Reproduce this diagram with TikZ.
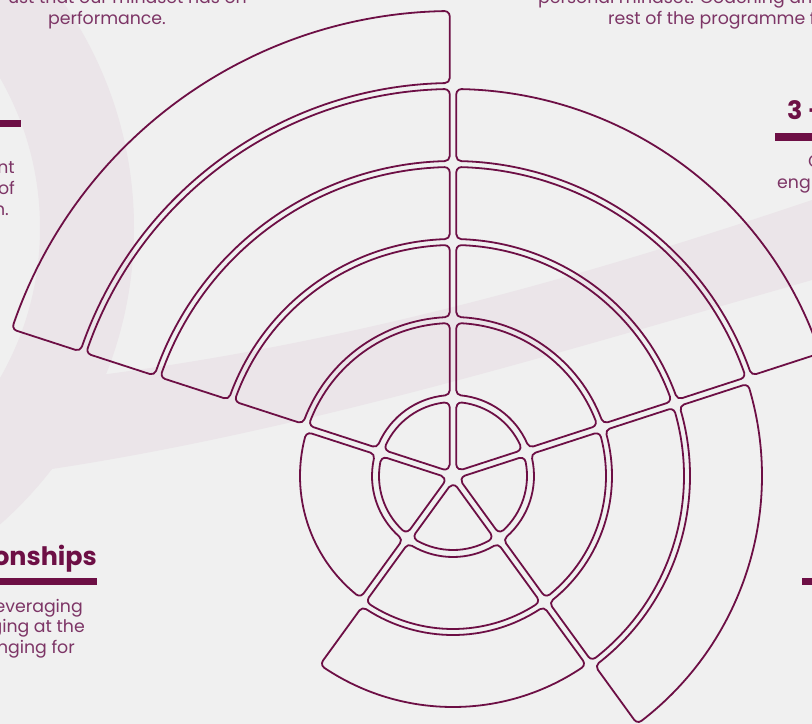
\documentclass[tikz,border=0pt]{standalone}
\usepackage{fontspec}
\setmainfont{Poppins}
\definecolor{bgc}{HTML}{F0F0F0}
\definecolor{swc}{HTML}{EBE5E9}
\definecolor{plum}{HTML}{6D0F45}
\definecolor{plumtext}{HTML}{7D3566}
\newcommand\gapd{3.3}
\newcommand\crad{5}
% annular sector with rounded corners: #1 start angle, #2 end angle, #3 inner radius, #4 outer radius
\newcommand\ringseg[4]{%
 \pgfmathsetmacro\sgA{#1}\pgfmathsetmacro\sgB{#2}%
 \pgfmathsetmacro\sgRi{#3}\pgfmathsetmacro\sgRo{#4}%
 \pgfmathsetmacro\sgPa{\sgA+asin((\gapd+\crad)/(\sgRo-\crad))}%
 \pgfmathsetmacro\sgPb{\sgB-asin((\gapd+\crad)/(\sgRo-\crad))}%
 \pgfmathsetmacro\sgQa{\sgA+asin((\gapd+\crad)/(\sgRi+\crad))}%
 \pgfmathsetmacro\sgQb{\sgB-asin((\gapd+\crad)/(\sgRi+\crad))}%
 \pgfmathsetmacro\sgSx{(\sgRo-\crad)*cos(\sgPa)+\crad*cos(\sgA-90)}%
 \pgfmathsetmacro\sgSy{(\sgRo-\crad)*sin(\sgPa)+\crad*sin(\sgA-90)}%
 \pgfmathsetmacro\sgTx{(\sgRi+\crad)*cos(\sgQb)+\crad*cos(\sgB+90)}%
 \pgfmathsetmacro\sgTy{(\sgRi+\crad)*sin(\sgQb)+\crad*sin(\sgB+90)}%
 \draw[segline] (\sgSx,\sgSy) arc[start angle=\sgA-90, end angle=\sgPa, radius=\crad]
   arc[start angle=\sgPa, end angle=\sgPb, radius=\sgRo]
   arc[start angle=\sgPb, end angle=\sgB+90, radius=\crad]
   -- (\sgTx,\sgTy)
   arc[start angle=\sgB+90, end angle=\sgQb+180, radius=\crad]
   arc[start angle=\sgQb, end angle=\sgQa, radius=\sgRi]
   arc[start angle=\sgQa+180, end angle=\sgA+270, radius=\crad]
   -- cycle;}
% pie slice with rounded corners: #1 start angle, #2 end angle, #3 radius
\newcommand\pieseg[3]{%
 \pgfmathsetmacro\sgA{#1}\pgfmathsetmacro\sgB{#2}\pgfmathsetmacro\sgRo{#3}%
 \pgfmathsetmacro\sgPa{\sgA+asin((\gapd+\crad)/(\sgRo-\crad))}%
 \pgfmathsetmacro\sgPb{\sgB-asin((\gapd+\crad)/(\sgRo-\crad))}%
 \pgfmathsetmacro\sgM{(\sgA+\sgB)/2}%
 \pgfmathsetmacro\sgD{(\gapd+\crad)/sin((\sgB-\sgA)/2)}%
 \pgfmathsetmacro\sgSx{(\sgRo-\crad)*cos(\sgPa)+\crad*cos(\sgA-90)}%
 \pgfmathsetmacro\sgSy{(\sgRo-\crad)*sin(\sgPa)+\crad*sin(\sgA-90)}%
 \pgfmathsetmacro\sgTx{\sgD*cos(\sgM)+\crad*cos(\sgB+90)}%
 \pgfmathsetmacro\sgTy{\sgD*sin(\sgM)+\crad*sin(\sgB+90)}%
 \draw[segline] (\sgSx,\sgSy) arc[start angle=\sgA-90, end angle=\sgPa, radius=\crad]
   arc[start angle=\sgPa, end angle=\sgPb, radius=\sgRo]
   arc[start angle=\sgPb, end angle=\sgB+90, radius=\crad]
   -- (\sgTx,\sgTy)
   arc[start angle=\sgB+90, end angle=\sgA+270, radius=\crad]
   -- cycle;}
\begin{document}
\begin{tikzpicture}[x=1bp,y=1bp,
  segline/.style={draw=plum, line width=1.8bp, line join=round},
  bodytxt/.style={text=plumtext, font=\fontsize{17.4}{21}\selectfont, inner sep=0pt},
  headtxt/.style={text=plum, font=\fontsize{25.5}{30}\selectfont\bfseries, inner sep=0pt},
  bar/.style={fill=plum}]
\useasboundingbox (0,0) rectangle (812,-724);
\clip (0,0) rectangle (812,-724);
\fill[bgc] (0,0) rectangle (812,-724);
% background swoosh
\fill[swc, even odd rule] (-261,-228) circle[radius=395] (-261,-228) circle[radius=301];
\fill[swc] (100,-375) .. controls (340,-344) and (572,-281) .. (812,-200)
  -- (830,-200) -- (830,-280) -- (812,-280)
  .. controls (560,-352) and (300,-432) .. (45,-470) -- cycle;
% radial chart
\begin{scope}[shift={(453,-476)}]
  % sector A (6 rings)
  \pieseg{90}{162}{74}
  \foreach \k in {2,...,6} {\ringseg{90}{162}{81+78*(\k-2)}{153+78*(\k-2)}}
  % sector B (5 rings)
  \pieseg{18}{90}{74}
  \foreach \k in {2,...,5} {\ringseg{18}{90}{81+78*(\k-2)}{153+78*(\k-2)}}
  % sector C (4 rings)
  \pieseg{-54}{18}{74}
  \foreach \k in {2,...,4} {\ringseg{-54}{18}{81+78*(\k-2)}{153+78*(\k-2)}}
  % sector D (3 rings)
  \pieseg{-126}{-54}{74}
  \foreach \k in {2,...,3} {\ringseg{-126}{-54}{81+78*(\k-2)}{153+78*(\k-2)}}
  % sector E (2 rings)
  \pieseg{162}{234}{74}
  \ringseg{162}{234}{81}{153}
\end{scope}
% heading bars
\fill[bar] (0,-120) rectangle (21,-127);
\fill[bar] (0,-578) rectangle (97,-585);
\fill[bar] (775,-133) rectangle (812,-141);
\fill[bar] (802,-578) rectangle (812,-585);
% texts
\node[bodytxt, anchor=base east] (t1) at (247,-4) {ust that our mindset has on};
\node[bodytxt, anchor=base] (t2) at (107,-25) {performance.};
\node[bodytxt, anchor=base west] (t3) at (538,-4) {personal mindset. Coaching and};
\node[bodytxt, anchor=base west] (t4) at (608,-25) {rest of the programme f};
\node[headtxt, anchor=base west] (h3) at (787,-120) {3 –};
\node[bodytxt, anchor=base west] (t5) at (808,-167) {C};
\node[bodytxt, anchor=base west] (t6) at (777,-188) {eng};
\node[bodytxt, anchor=base east] (t7) at (15,-173) {nt};
\node[bodytxt, anchor=base east] (t8) at (15,-194) {of};
\node[bodytxt, anchor=base east] (t9) at (9,-215) {n.};
\node[headtxt, anchor=base east] (h4) at (97,-565) {onships};
\node[bodytxt, anchor=base east] (t10) at (83,-612) {everaging};
\node[bodytxt, anchor=base east] (t11) at (85,-632) {ging at the};
\node[bodytxt, anchor=base east] (t12) at (75,-653) {nging for};
\end{tikzpicture}
\end{document}
